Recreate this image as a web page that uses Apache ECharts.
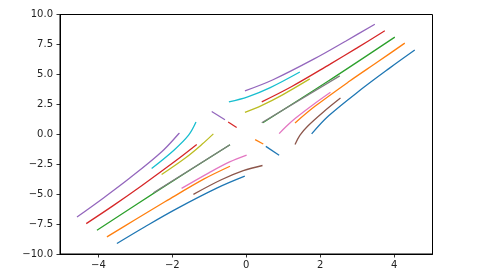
<!DOCTYPE html>
<html>
<head>
<meta charset="utf-8">
<script src="https://cdn.jsdelivr.net/npm/echarts@6/dist/echarts.min.js"></script>
<style>html,body{margin:0;padding:0;background:#fff}#c{width:480px;height:270px}</style>
</head>
<body>
<div id="c"></div>
<script>
// Tick labels
const xTicks = [-4, -2, 0, 2, 4];
const yTicks = [-10, -7.5, -5, -2.5, 0, 2.5, 5, 7.5, 10];

// Trajectories (x, y) — upper-right group
const blueUR   = [[1.77,0.03],[2.23,1.54],[3.12,3.77],[3.86,5.48],[4.56,7.03]];
const orangeUR = [[1.32,0.94],[1.85,2.31],[2.79,4.42],[3.57,6.07],[4.29,7.61]];
const greenUR  = [[0.45,0.96],[2.20,4.40],[4.02,8.11]];
const redUR    = [[0.42,2.71],[1.22,3.97],[2.27,5.86],[3.00,7.21],[3.75,8.64]];
const purpleUR = [[-0.035,3.62],[0.725,4.55],[1.85,6.31],[2.70,7.79],[3.48,9.19]];
const brownUR  = [[1.32,-0.86],[1.45,-0.09],[1.66,0.67],[2.08,1.84],[2.55,3.02]];
const pinkUR   = [[0.89,0.05],[1.08,0.65],[1.33,1.33],[1.79,2.42],[2.28,3.50]];
const grayUR   = [[0.42,0.96],[2.53,4.87]];
const oliveUR  = [[-0.035,1.82],[0.41,2.39],[0.97,3.27],[1.72,4.62]];
const cyanUR   = [[-0.47,2.71],[0.04,3.13],[0.65,3.90],[1.45,5.20]];

// Lower-left group
const blueLL   = [[-3.50,-9.12],[-2.74,-7.72],[-1.89,-6.23],[-0.77,-4.46],[-0.04,-3.50]];
const orangeLL = [[-3.77,-8.57],[-3.02,-7.16],[-2.19,-5.62],[-1.14,-3.73],[-0.44,-2.67]];
const greenLL  = [[-4.04,-8.01],[-2.30,-4.52],[-0.44,-0.88]];
const redLL    = [[-4.33,-7.46],[-3.61,-5.98],[-2.84,-4.32],[-1.90,-2.20],[-1.34,-0.86]];
const purpleLL = [[-4.58,-6.91],[-3.90,-5.40],[-3.16,-3.68],[-2.28,-1.44],[-1.81,0.11]];
const brownLL  = [[-1.43,-5.02],[-0.69,-3.82],[-0.08,-3.04],[0.44,-2.61]];
const pinkLL   = [[-1.75,-4.52],[-1.00,-3.20],[-0.45,-2.31],[0.01,-1.74]];
const grayLL   = [[-2.51,-4.88],[-0.44,-0.88]];
const oliveLL  = [[-2.29,-3.36],[-1.63,-1.94],[-1.19,-0.82],[-0.89,0.03]];
const cyanLL   = [[-2.56,-2.86],[-1.95,-1.31],[-1.56,-0.08],[-1.36,1.02]];

// Short segments near the centre
const blueDash   = [[0.53,-1.01],[0.89,-1.75]];
const orangeDash = [[0.24,-0.45],[0.46,-0.81]];
const redDash    = [[-0.49,1.02],[-0.26,0.57]];
const purpleDash = [[-0.935,1.90],[-0.576,1.21]];

const palette = ['#1f77b4','#ff7f0e','#2ca02c','#d62728','#9467bd','#8c564b','#e377c2','#7f7f7f','#bcbd22','#17becf'];

const curves = [
  [blueUR,0],[blueLL,0],[blueDash,0],
  [orangeUR,1],[orangeLL,1],[orangeDash,1],
  [greenUR,2],[greenLL,2],
  [redUR,3],[redLL,3],[redDash,3],
  [purpleUR,4],[purpleLL,4],[purpleDash,4],
  [brownUR,5],[brownLL,5],
  [pinkUR,6],[pinkLL,6],
  [grayUR,7],[grayLL,7],
  [oliveUR,8],[oliveLL,8],
  [cyanUR,9],[cyanLL,9]
];

const fmt = v => String(v).replace('-', '\u2212');
const fmtY = v => v.toFixed(1).replace('-', '\u2212');

const chart = echarts.init(document.getElementById('c'), null, {renderer: 'canvas'});
chart.setOption({
  animation: false,
  backgroundColor: '#fff',
  grid: {left: 60, right: 47.5, top: 14.5, bottom: 15.5, show: true, borderColor: '#000', borderWidth: 1, backgroundColor: 'transparent'},
  xAxis: {
    type: 'value', min: -5.04, max: 5.04,
    axisLine: {show: true, onZero: false, lineStyle: {color: '#000', width: 1}},
    axisTick: {show: true, inside: false, length: 3.5, lineStyle: {color: '#000', width: 0.8}, customValues: xTicks},
    axisLabel: {customValues: xTicks, formatter: fmt, margin: 6, color: '#222', fontFamily: 'DejaVu Sans', fontSize: 10},
    splitLine: {show: false}
  },
  yAxis: {
    type: 'value', min: -10, max: 10,
    axisLine: {show: true, onZero: false, lineStyle: {color: '#000', width: 1}},
    axisTick: {show: true, inside: false, length: 3.5, lineStyle: {color: '#000', width: 0.8}, customValues: yTicks},
    axisLabel: {customValues: yTicks, formatter: fmtY, margin: 7, color: '#222', fontFamily: 'DejaVu Sans', fontSize: 10},
    splitLine: {show: false}
  },
  series: curves.map(([d, ci]) => ({
    type: 'line', data: d, showSymbol: false, smooth: 0.35,
    lineStyle: {color: palette[ci], width: 1.3},
    itemStyle: {color: palette[ci]},
    silent: true
  }))
});
</script>
</body>
</html>
